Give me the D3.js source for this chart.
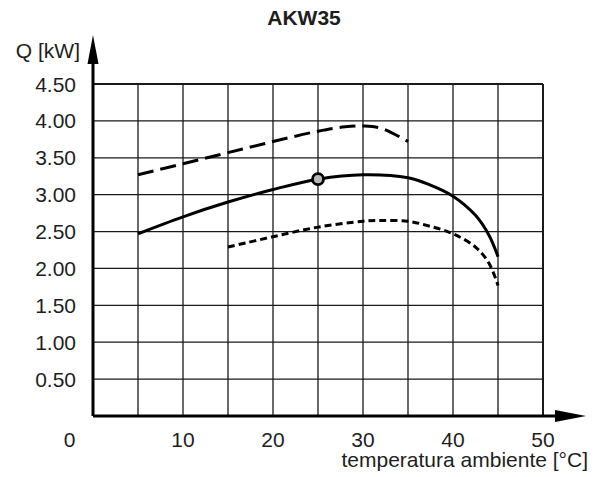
<!DOCTYPE html>
<html>
<head>
<meta charset="utf-8">
<script src="https://cdn.jsdelivr.net/npm/d3@7/dist/d3.min.js"></script>
<style>
  html, body { margin: 0; padding: 0; background: #fff; }
  svg { display: block; }
  text { font-family: "Liberation Sans", Arial, sans-serif; fill: #1e1e1e; }
</style>
</head>
<body>
<svg id="chart" width="599" height="477"></svg>
<script>
// ---- data ----
const title = "AKW35";
const yLabel = "Q [kW]";
const xLabel = "temperatura ambiente [°C]";
const xTicks = [0, 10, 20, 30, 40, 50];
const xGrid = [5, 10, 15, 20, 25, 30, 35, 40, 45, 50];
const yTicks = [0.5, 1.0, 1.5, 2.0, 2.5, 3.0, 3.5, 4.0, 4.5];

const dashedT = [5, 10, 15, 20, 25, 28, 30, 32, 35];
const dashedQ = [3.27, 3.42, 3.57, 3.72, 3.86, 3.92, 3.93, 3.90, 3.72];

const solidT = [5, 10, 15, 20, 25, 30, 35, 37.5, 40, 42.5, 44, 45];
const solidQ = [2.47, 2.70, 2.90, 3.07, 3.21, 3.27, 3.23, 3.13, 2.98, 2.72, 2.45, 2.16];

const dottedT = [15, 20, 25, 30, 32, 35, 37.5, 40, 42.5, 44, 45];
const dottedQ = [2.29, 2.43, 2.56, 2.64, 2.65, 2.64, 2.57, 2.47, 2.29, 2.07, 1.77];

const markerT = [25];
const markerQ = [3.21];

// ---- drawing ----
const svg = d3.select("#chart");
const x = d3.scaleLinear().domain([0, 50]).range([93, 543]);
const y = d3.scaleLinear().domain([0, 4.5]).range([416, 84]);
const FS = 21;

// grid
svg.append("g").selectAll("line").data(yTicks).join("line")
  .attr("x1", x(0)).attr("x2", x(50))
  .attr("y1", d => y(d)).attr("y2", d => y(d))
  .attr("stroke", "#1a1a1a").attr("stroke-width", d => d === 4.5 ? 2 : 1.3);
svg.append("g").selectAll("line").data(xGrid).join("line")
  .attr("x1", d => x(d)).attr("x2", d => x(d))
  .attr("y1", y(0)).attr("y2", y(4.5))
  .attr("stroke", "#1a1a1a").attr("stroke-width", d => d === 50 ? 2 : 1.3);

// axes with arrows
svg.append("line").attr("x1", x(0)).attr("x2", 558).attr("y1", y(0)).attr("y2", y(0))
  .attr("stroke", "#000").attr("stroke-width", 3);
svg.append("path").attr("d", `M555,${y(0) - 6} L586,${y(0)} L555,${y(0) + 6} Z`).attr("fill", "#000");
svg.append("line").attr("x1", x(0)).attr("x2", x(0)).attr("y1", y(0)).attr("y2", 62)
  .attr("stroke", "#000").attr("stroke-width", 3);
svg.append("path").attr("d", `M${x(0) - 5.5},64 L${x(0)},35 L${x(0) + 5.5},64 Z`).attr("fill", "#000");

// tick labels
svg.append("g").selectAll("text").data(yTicks).join("text")
  .attr("x", 76).attr("y", d => y(d)).attr("dy", "0.36em")
  .attr("text-anchor", "end").attr("font-size", FS)
  .text(d => d3.format(".2f")(d));
svg.append("g").selectAll("text").data(xTicks).join("text")
  .attr("x", d => d === 0 ? 69.5 : x(d)).attr("y", 447)
  .attr("text-anchor", "middle").attr("font-size", FS)
  .text(d => d);

// labels
svg.append("text").attr("x", 304).attr("y", 24.5).attr("text-anchor", "middle")
  .attr("font-size", FS).attr("font-weight", "bold").text(title);
svg.append("text").attr("x", 80).attr("y", 57.5).attr("text-anchor", "end")
  .attr("font-size", FS).text(yLabel);
svg.append("text").attr("x", 588).attr("y", 467).attr("text-anchor", "end")
  .attr("font-size", FS).text(xLabel);

// curves
const line = d3.line().x(d => x(d[0])).y(d => y(d[1])).curve(d3.curveCatmullRom.alpha(0.5));
const series = [
  { t: dashedT, q: dashedQ, dash: "16,7" },
  { t: solidT, q: solidQ, dash: null },
  { t: dottedT, q: dottedQ, dash: "7,4" }
];
series.forEach(s => {
  svg.append("path")
    .attr("d", line(d3.zip(s.t, s.q)))
    .attr("fill", "none").attr("stroke", "#000").attr("stroke-width", 3)
    .attr("stroke-dasharray", s.dash);
});

// marker
svg.append("g").selectAll("circle").data(d3.zip(markerT, markerQ)).join("circle")
  .attr("cx", d => x(d[0])).attr("cy", d => y(d[1])).attr("r", 5.5)
  .attr("fill", "#b8b8b8").attr("stroke", "#000").attr("stroke-width", 2.8);
</script>
</body>
</html>
